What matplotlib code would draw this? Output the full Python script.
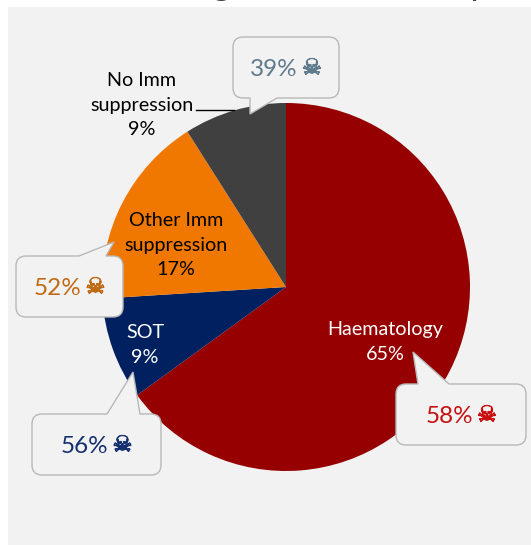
"""
Mortality by patient group - pie with callouts
"""
import matplotlib
matplotlib.use('Agg')
import matplotlib.pyplot as plt
import matplotlib.patheffects as pe
from matplotlib.path import Path
from matplotlib.patches import PathPatch, Rectangle

# Data
categories = ['Haematology', 'SOT', 'Other Imm\nsuppression', 'No Imm\nsuppression']
shares = [65, 9, 17, 9]
mortality = [58, 56, 52, 39]
slice_colors = ['#960000', '#002060', '#F07800', '#404040']
callout_colors = ['#C81010', '#14306E', '#BF6A14', '#5F7A8C']
label_colors = ['white', 'white', 'black', 'black']

W, H = 531, 545
CX, CY, R = 286, 287, 184
FONT = ['Lato', 'DejaVu Sans']

# label centres and callout geometry, in pixels
label_pos = [(385, 342), (145, 345), (176, 245), (142, 105)]
boxes = [(396, 384, 526, 445), (32, 414, 161, 475), (16, 256, 123, 317), (233, 37, 339, 98)]
tails = [
    [(418, 384), (413, 352), (449, 384)],
    [(107, 414), (133, 372), (140, 414)],
    [(79, 256), (114, 242), (106, 256)],
    [(277, 98), (250, 114), (250, 98)],
]


def callout_path(box, tail, r=10):
    """Rounded box with a pointed tail on the top or bottom edge."""
    x0, y0, x1, y1 = box
    top = abs(tail[0][1] - y0) < abs(tail[0][1] - y1)
    verts = [(x0 + r, y0)]
    codes = [Path.MOVETO]
    if top:
        verts += tail
        codes += [Path.LINETO] * 3
    verts += [(x1 - r, y0), (x1, y0), (x1, y0 + r), (x1, y1 - r), (x1, y1), (x1 - r, y1)]
    codes += [Path.LINETO, Path.CURVE3, Path.CURVE3, Path.LINETO, Path.CURVE3, Path.CURVE3]
    if not top:
        verts += tail
        codes += [Path.LINETO] * 3
    verts += [(x0 + r, y1), (x0, y1), (x0, y1 - r), (x0, y0 + r), (x0, y0), (x0 + r, y0)]
    codes += [Path.LINETO, Path.CURVE3, Path.CURVE3, Path.LINETO, Path.CURVE3, Path.CURVE3]
    return Path(verts, codes)


fig = plt.figure(figsize=(W / 100, H / 100), dpi=100, facecolor='white')

# Background panel and title remnants
bg = fig.add_axes([0, 0, 1, 1])
bg.set_xlim(0, W)
bg.set_ylim(H, 0)
bg.axis('off')
bg.add_patch(Rectangle((8, 7), W - 8, H - 7, facecolor='#F2F2F2', edgecolor='none'))
bg.text(222, -6, 'g', fontsize=27, family=FONT, color='#404040', ha='center', va='baseline', clip_on=False)
bg.text(477, -6, 'y', fontsize=27, family=FONT, color='#404040', ha='center', va='baseline', clip_on=False)

# Pie
pie_ax = fig.add_axes([(CX - R) / W, 1 - (CY + R) / H, 2 * R / W, 2 * R / H])
pie_ax.pie(shares, colors=slice_colors, startangle=90, counterclock=False, radius=1.0)
pie_ax.set_xlim(-1, 1)
pie_ax.set_ylim(-1, 1)

# Overlay for labels and callouts
top = fig.add_axes([0, 0, 1, 1])
top.set_xlim(0, W)
top.set_ylim(H, 0)
top.axis('off')
top.patch.set_alpha(0)

top.plot([196, 234], [109.5, 109.5], color='black', linewidth=1)

for name, share, pos, col in zip(categories, shares, label_pos, label_colors):
    top.text(pos[0], pos[1], f'{name}\n{share}%', color=col, fontsize=14.2, family=FONT,
             ha='center', va='center', linespacing=1.52)

for m, box, tail, col in zip(mortality, boxes, tails, callout_colors):
    top.add_patch(PathPatch(callout_path(box, tail), facecolor='#F2F2F2', edgecolor='#B8B8B8', linewidth=1))
    xc = (box[0] + box[2]) / 2
    yc = (box[1] + box[3]) / 2
    top.text(xc - 12, yc + 2, f'{m}%', color=col, fontsize=17.5, family=FONT, ha='center', va='center')
    top.text(xc + 26, yc + 1, '\u2620', color=col, fontsize=16, family='DejaVu Sans',
             ha='center', va='center', path_effects=[pe.withStroke(linewidth=0.6, foreground=col)])

fig.savefig('out.png', dpi=100)
